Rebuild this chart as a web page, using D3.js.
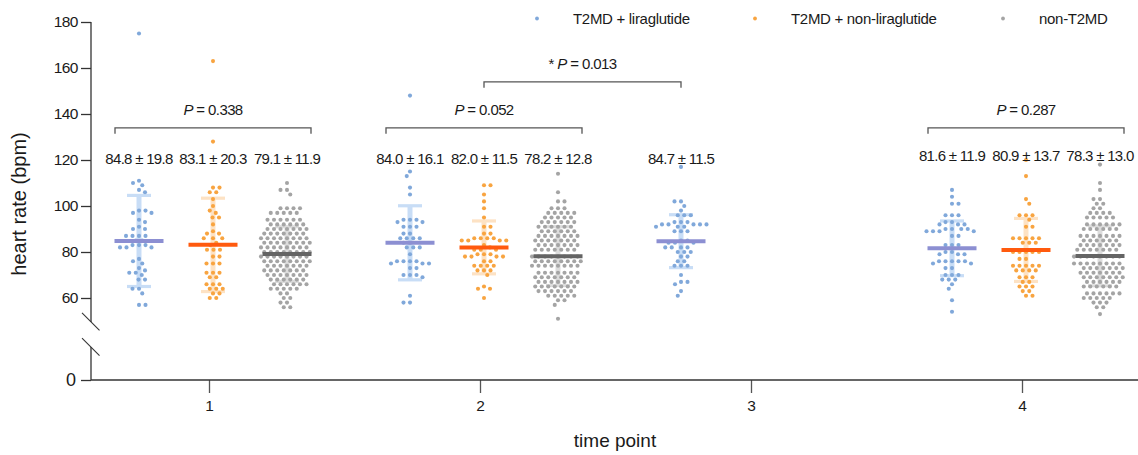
<!DOCTYPE html>
<html>
<head>
<meta charset="utf-8">
<script src="https://cdn.jsdelivr.net/npm/d3@7"></script>
<style>
  body { margin: 0; background: #fff; }
  text { font-family: "Liberation Sans", Arial, sans-serif; fill: #1a1a1a; }
</style>
</head>
<body>
<div id="chart"></div>
<script>
// ------------------------- data ------------------------//

var seriesNames = ["T2MD + liraglutide", "T2MD + non-liraglutide", "non-T2MD"];
var timePoints = [1, 2, 3, 4];

// heart rate per subject
var t1Lira = [175,111,110,109,107,106,98,98,97,97,94,93,91,90,90,87,87,87,87,85,85,83,83,83,82,82,82,77,76,75,73,72,71,71,70,68,68,64,64,62,57,57];
var t1Non = [163,128,108,108,106,106,103,100,98,97,95,95,92,89,88,88,86,86,86,84,83,81,81,81,78,78,75,75,75,71,71,71,69,69,66,66,66,64,64,64,62,62,60,60];
var t1Ctrl = [110,107,107,105,99,99,99,99,97,97,97,97,97,94,94,94,94,94,94,92,92,92,92,92,92,
  90,90,90,90,90,90,90,88,88,88,88,88,88,88,86,86,86,86,86,86,86,86,
  84,84,84,84,84,84,84,84,82,82,82,82,82,82,82,82,80,80,80,80,80,80,80,80,
  78,78,78,78,78,78,78,78,76,76,76,76,76,76,76,76,74,74,74,74,74,74,74,
  72,72,72,72,72,72,72,70,70,70,70,70,70,70,68,68,68,68,68,68,66,66,66,66,66,66,
  64,64,64,64,64,62,62,60,60,58,58,56,56];

var t2Lira = [148,115,113,108,105,94,94,94,93,93,91,91,91,88,88,86,86,86,86,84,84,82,82,82,79,76,76,76,76,75,75,75,73,73,70,70,70,69,61,58,58];
var t2Non = [109,109,105,102,99,95,91,91,88,88,86,86,86,86,85,85,85,85,83,82,81,81,81,79,79,79,78,78,78,78,76,76,74,74,74,74,72,72,72,70,65,64,64,60];
var t2Ctrl = [114,106,102,102,99,99,99,97,97,97,97,97,95,95,95,95,95,93,93,93,93,93,93,
  91,91,91,91,91,91,89,89,89,89,89,89,87,87,87,87,87,87,87,85,85,85,85,85,85,85,
  83,83,83,83,83,83,83,81,81,81,81,81,81,81,78,78,78,78,78,78,78,78,
  76,76,76,76,76,76,76,76,74,74,74,74,74,74,74,74,71,71,71,71,71,71,71,
  69,69,69,69,69,69,69,67,67,67,67,67,67,67,65,65,65,65,65,65,65,
  63,63,63,63,63,63,61,61,61,61,61,59,59,57,51];

var t3Lira = [117,102,102,100,98,96,96,96,93,93,93,92,92,92,92,92,91,91,91,89,89,89,85,85,84,84,84,82,82,82,82,80,80,80,78,78,76,76,74,74,74,70,67,67,66,63,61];

var t4Lira = [107,104,101,101,96,96,96,93,93,92,92,92,90,90,90,90,89,89,89,89,87,87,83,83,83,80,80,79,79,79,76,76,76,76,76,75,75,73,73,70,70,70,68,68,68,66,64,59,54];
var t4Non = [120,113,103,101,96,96,96,94,91,91,86,86,86,86,86,84,84,84,80,80,80,80,80,77,77,74,74,74,74,74,72,72,72,72,69,69,69,67,67,65,65,65,63,63,61,61];
var t4Ctrl = [118,110,107,103,103,101,101,99,99,97,97,97,97,95,95,95,95,95,92,92,92,92,92,92,
  90,90,90,90,90,90,87,87,87,87,87,87,87,85,85,85,85,85,85,83,83,83,83,83,83,83,
  81,81,81,81,81,81,81,78,78,78,78,78,78,78,78,75,75,75,75,75,75,75,75,
  73,73,73,73,73,73,73,71,71,71,71,71,71,71,69,69,69,69,69,69,69,
  67,67,67,67,67,67,65,65,65,65,65,65,62,62,62,62,62,62,60,60,60,60,60,58,58,58,56,56,53];

// mean and SD printed above each column
var means = [[84.8, 83.1, 79.1], [84.0, 82.0, 78.2], [84.7], [81.6, 80.9, 78.3]];
var sds = [[19.8, 20.3, 11.9], [16.1, 11.5, 12.8], [11.5], [11.9, 13.7, 13.0]];
var values = [[t1Lira, t1Non, t1Ctrl], [t2Lira, t2Non, t2Ctrl], [t3Lira], [t4Lira, t4Non, t4Ctrl]];

var yTicks = [60, 80, 100, 120, 140, 160, 180];

// comparisons: [timepoint, series] to [timepoint, series]
var comparisons = [
  { a: [1, 0], b: [1, 2], level: 134, star: "", p: "0.338" },
  { a: [2, 0], b: [2, 2], level: 134, star: "", p: "0.052" },
  { a: [2, 1], b: [3, 0], level: 154, star: "* ", p: "0.013" },
  { a: [4, 0], b: [4, 2], level: 134, star: "", p: "0.287" }
];

// ------------------------- svg init ------------------------//

var width = 1138,
  height = 455;

var dotColor = ["#80a8da", "#f8a440", "#a4a4a4"],
  meanColor = ["#8c8fd2", "#ff5a0e", "#646464"],
  sdColor = ["#c8ddf6", "#fde2c4", "#dcdcdc"],
  offsets = [-70, 4, 78];

var svg = d3.select("#chart").append("svg")
  .attr("width", width)
  .attr("height", height);

var x = d3.scaleLinear().domain([1, 4]).range([209, 1022]);
var y = d3.scaleLinear().domain([60, 180]).range([298, 22]);
var y0 = d3.scaleLinear().domain([0, 15]).range([380, 345.5]);

var axisX0 = 91;

function center(tp, g) { return x(tp) + offsets[g]; }

// ------------------------- axes ------------------------//

var yAxis = svg.append("g")
  .attr("transform", "translate(" + axisX0 + ",0)")
  .call(d3.axisLeft(y).tickValues(yTicks).tickSize(10).tickPadding(3));
yAxis.select(".domain").remove();
yAxis.selectAll(".tick line").attr("stroke", "#333").attr("stroke-width", 1.3);
yAxis.selectAll(".tick text")
  .style("font-family", "'Liberation Sans', Arial, sans-serif")
  .style("font-size", "15.5px").style("letter-spacing", "-0.5px").attr("fill", "#1a1a1a");

var yAxisLow = svg.append("g")
  .attr("transform", "translate(" + axisX0 + ",0)")
  .call(d3.axisLeft(y0).tickValues([0]).tickSize(10).tickPadding(5));
yAxisLow.select(".domain").remove();
yAxisLow.selectAll(".tick line").attr("stroke", "#333").attr("stroke-width", 1.3);
yAxisLow.selectAll(".tick text")
  .style("font-family", "'Liberation Sans', Arial, sans-serif")
  .style("font-size", "18px").attr("fill", "#1a1a1a");

// broken y axis
svg.append("line").attr("x1", axisX0).attr("x2", axisX0)
  .attr("y1", y(180)).attr("y2", y(49.6)).attr("stroke", "#333").attr("stroke-width", 1.3);
svg.append("line").attr("x1", axisX0).attr("x2", axisX0)
  .attr("y1", y0(0)).attr("y2", y0(14.3)).attr("stroke", "#333").attr("stroke-width", 1.3);
[y(49.6), y0(14.3)].forEach(function (cy) {
  svg.append("line")
    .attr("x1", axisX0 - 9).attr("y1", cy - 9)
    .attr("x2", axisX0 + 8.5).attr("y2", cy + 8.5)
    .attr("stroke", "#333").attr("stroke-width", 1.1);
});

var xAxis = svg.append("g")
  .attr("transform", "translate(0," + y0(0) + ")")
  .call(d3.axisBottom(x).tickValues(timePoints).tickSize(13).tickPadding(7).tickFormat(d3.format("d")));
xAxis.select(".domain").remove();
xAxis.selectAll(".tick line").attr("stroke", "#555").attr("stroke-width", 1.3);
xAxis.selectAll(".tick text")
  .style("font-family", "'Liberation Sans', Arial, sans-serif")
  .style("font-size", "15.5px").attr("fill", "#1a1a1a");
svg.append("line").attr("x1", axisX0).attr("x2", width)
  .attr("y1", y0(0)).attr("y2", y0(0)).attr("stroke", "#333").attr("stroke-width", 1.3);

svg.append("text")
  .attr("transform", "translate(26,204) rotate(-90)")
  .attr("text-anchor", "middle")
  .style("font-size", "20px")
  .text("heart rate (bpm)");

svg.append("text")
  .attr("x", 615).attr("y", 447)
  .attr("text-anchor", "middle")
  .style("font-size", "19px")
  .text("time point");

// ------------------------- swarm ------------------------//

// horizontal spacing inside a row, vertical reach of a dot
var R = 2.05, DX = 6.5, DY = 5.2;

function swarm(vals, cx) {
  var pts = vals.map(function (v) { return { v: v, y: y(v) }; })
    .sort(function (a, b) { return a.y - b.y; });
  var placed = [];
  pts.forEach(function (p, i) {
    var near = placed.filter(function (q) { return Math.abs(q.y - p.y) < DY; });
    var pref = (i % 2) ? 1 : -1;
    for (var k = 0; k < 400; k++) {
      var found = false;
      for (var s = 0; s < 2; s++) {
        var dx = (s ? -pref : pref) * k * 0.25;
        var ok = near.every(function (q) {
          var ex = (q.dx - dx) / DX, ey = (q.y - p.y) / DY;
          return ex * ex + ey * ey >= 1;
        });
        if (ok) { p.dx = dx; found = true; break; }
      }
      if (found) break;
    }
    placed.push(p);
  });
  pts.forEach(function (p) { p.x = cx + p.dx; });
  return pts;
}

// ------------------------- columns ------------------------//

values.forEach(function (groupList, t) {
  var tp = timePoints[t];
  groupList.forEach(function (vals, g) {
    var cx = center(tp, g),
      m = means[t][g],
      s = sds[t][g];
    var col = svg.append("g").attr("class", "column");

    // SD bar
    col.append("line").attr("x1", cx).attr("x2", cx)
      .attr("y1", y(m + s)).attr("y2", y(m - s))
      .attr("stroke", sdColor[g]).attr("stroke-width", 5);
    [m + s, m - s].forEach(function (v) {
      col.append("line").attr("x1", cx - 12).attr("x2", cx + 12)
        .attr("y1", y(v)).attr("y2", y(v))
        .attr("stroke", sdColor[g]).attr("stroke-width", 3.2);
    });

    // dots
    col.selectAll("circle").data(swarm(vals, cx)).enter()
      .append("circle")
      .attr("cx", function (d) { return d.x; })
      .attr("cy", function (d) { return d.y; })
      .attr("r", R)
      .attr("fill", dotColor[g]);

    // mean
    col.append("line").attr("x1", cx - 24.5).attr("x2", cx + 24.5)
      .attr("y1", y(m)).attr("y2", y(m))
      .attr("stroke", meanColor[g]).attr("stroke-width", 4);

    // label
    svg.append("text")
      .attr("x", cx).attr("y", tp === 4 ? 160.5 : 163.5)
      .attr("text-anchor", "middle")
      .style("font-size", "15px").style("letter-spacing", "-0.7px")
      .text(m.toFixed(1) + " \u00b1 " + s.toFixed(1));
  });
});

// ------------------------- comparisons ------------------------//

comparisons.forEach(function (c) {
  var pad = (c.a[0] === c.b[0]) ? 24 : 0;
  var x1 = center(c.a[0], c.a[1]) - pad,
    x2 = center(c.b[0], c.b[1]) + pad,
    by = y(c.level);
  svg.append("path")
    .attr("d", "M" + x1 + "," + (by + 6) + "V" + by + "H" + x2 + "V" + (by + 6))
    .attr("fill", "none").attr("stroke", "#555").attr("stroke-width", 1.3);
  var t = svg.append("text")
    .attr("x", (x1 + x2) / 2).attr("y", by - 13)
    .attr("text-anchor", "middle")
    .style("font-size", "15px").style("letter-spacing", "-0.6px");
  if (c.star) t.append("tspan").text(c.star);
  t.append("tspan").style("font-style", "italic").text("P");
  t.append("tspan").text(" = " + c.p);
});

// ------------------------- legend ------------------------//

var legendX = [537, 755, 1003];
seriesNames.forEach(function (name, i) {
  svg.append("circle").attr("cx", legendX[i]).attr("cy", 18.5).attr("r", 1.9).attr("fill", dotColor[i]);
  svg.append("text").attr("x", legendX[i] + 36).attr("y", 24)
    .style("font-size", "15px").style("letter-spacing", "-0.3px")
    .text(name);
});
</script>
</body>
</html>
